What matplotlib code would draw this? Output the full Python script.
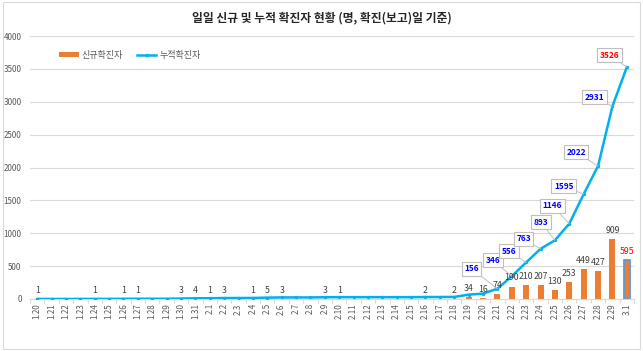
import matplotlib
matplotlib.use("Agg")
import matplotlib.pyplot as plt
from matplotlib.patches import Rectangle

plt.rcParams['font.family'] = ['Noto Sans CJK KR', 'DejaVu Sans']

dates = ['1.20', '1.21', '1.22', '1.23', '1.24', '1.25', '1.26', '1.27', '1.28', '1.29',
         '1.30', '1.31', '2.1', '2.2', '2.3', '2.4', '2.5', '2.6', '2.7', '2.8', '2.9',
         '2.10', '2.11', '2.12', '2.13', '2.14', '2.15', '2.16', '2.17', '2.18', '2.19',
         '2.20', '2.21', '2.22', '2.23', '2.24', '2.25', '2.26', '2.27', '2.28', '2.29', '3.1']
daily = [1, 0, 0, 0, 1, 0, 1, 1, 0, 0,
         3, 4, 1, 3, 0, 1, 5, 3, 0, 0, 3,
         1, 0, 0, 0, 0, 0, 2, 0, 2, 34,
         16, 74, 190, 210, 207, 130, 253, 449, 427, 909, 595]
cumulative = [1, 1, 1, 1, 2, 2, 3, 4, 4, 4,
              7, 11, 12, 15, 15, 16, 21, 24, 24, 24, 27,
              28, 28, 28, 28, 28, 28, 30, 30, 32, 66,
              82, 156, 346, 556, 763, 893, 1146, 1595, 2022, 2931, 3526]
yticks = [0, 500, 1000, 1500, 2000, 2500, 3000, 3500, 4000]
title = '일일 신규 및 누적 확진자 현황 (명, 확진(보고)일 기준)'
series_names = ['신규확진자', '누적확진자']

# layout (not data): callout offsets in pixels for the labelled cumulative points
callout_start = 32
callout_offsets = [(-26, 20), (-19, 16), (-17, 11), (-17, 10), (-14, 18),
                   (-17, 18), (-20, 8), (-22, 14), (-18, 9), (-17, 12)]

ORANGE = '#ED7D31'
LBLUE = '#00B0F0'
GRID = '#D9D9D9'
TXT = '#595959'

fig = plt.figure(figsize=(6.43, 3.51), dpi=100)
fig.patches.append(Rectangle((0.004, 0.006), 0.992, 0.988, transform=fig.transFigure,
                             fill=False, edgecolor='#D9D9D9', linewidth=0.8))
ax = fig.add_axes([30 / 643, 1 - 299 / 351, 604 / 643, 263 / 351])

x = list(range(len(dates)))
bars = ax.bar(x, daily, width=0.42, color=ORANGE, zorder=2, label=series_names[0])
bars[-1].set_edgecolor('#5B9BD5')
bars[-1].set_linewidth(1.3)

line, = ax.plot(x, cumulative, color=LBLUE, linewidth=1.8, marker='o', markersize=2.4,
                markeredgewidth=0, zorder=3, label=series_names[1])

# daily labels
for i, v in enumerate(daily):
    if v > 0:
        col = '#FF0000' if i == len(daily) - 1 else '#404040'
        ax.annotate(str(v), (i, v), xytext=(0, 3), textcoords='offset points',
                    ha='center', va='bottom', fontsize=6.3, color=col, zorder=4)

# cumulative callouts
for k, i in enumerate(range(callout_start, len(cumulative))):
    v = cumulative[i]
    dx, dy = callout_offsets[k]
    col = '#FF0000' if i == len(cumulative) - 1 else '#0000FF'
    ax.annotate(str(v), (i, v), xytext=(dx, dy), textcoords='offset pixels',
                ha='center', va='center', fontsize=6.0, fontweight='bold', color=col,
                bbox=dict(boxstyle='square,pad=0.3', fc='white', ec='#BFBFBF', lw=0.8),
                arrowprops=dict(arrowstyle='-', color='#BFBFBF', lw=0.7,
                                shrinkA=0, shrinkB=0),
                zorder=5)

ax.set_ylim(0, 4000)
ax.set_xlim(-0.5, len(dates) - 0.5)
ax.set_yticks(yticks)
ax.set_yticklabels([str(t) for t in yticks], fontsize=5.8, color=TXT)
ax.yaxis.grid(True, color=GRID, linewidth=0.8)
ax.set_axisbelow(True)
ax.tick_params(axis='y', length=0, pad=6)

ax.set_xticks(x)
ax.set_xticklabels(dates, rotation=90, fontsize=5.8, color=TXT)
ax.tick_params(axis='x', length=0, pad=3)
ax.set_xticks([i - 0.5 for i in range(len(dates) + 1)], minor=True)
ax.tick_params(axis='x', which='minor', length=3, color=GRID, width=0.8)

for s in ['top', 'right', 'left']:
    ax.spines[s].set_visible(False)
ax.spines['bottom'].set_color(GRID)
ax.spines['bottom'].set_linewidth(0.8)

ax.legend(handles=[bars, line], labels=series_names, loc='upper left',
          bbox_to_anchor=(0.035, 0.975), ncol=2, frameon=False,
          fontsize=6.5, handlelength=2.2, handleheight=0.6, columnspacing=1.5,
          handletextpad=0.3, labelcolor=TXT)

fig.text(322 / 643, 1 - 18 / 351, title, ha='center', va='center', fontsize=8.5,
         color='#262626', fontweight='bold')

fig.savefig('out.png', dpi=100)
